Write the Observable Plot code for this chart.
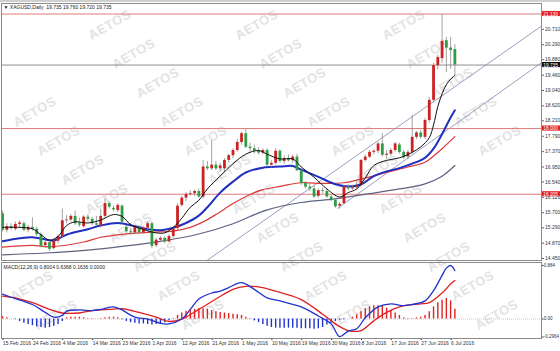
<!DOCTYPE html>
<html><head><meta charset="utf-8">
<script src="https://cdn.jsdelivr.net/npm/d3@7"></script>
<script src="https://cdn.jsdelivr.net/npm/@observablehq/plot@0.6"></script>
<style>
body{margin:0;background:#fff;}
#wrap{position:relative;width:560px;height:351px;overflow:hidden;background:#fff;font-family:"Liberation Sans",Arial,sans-serif;}
#wm,#main,#macd{position:absolute;left:0;}
#wm{top:0;width:560px;height:351px;}
#main{top:0}
#macd{top:261px}
.wmk{position:absolute;color:#e3e3e3;font:bold 13px "Liberation Sans",Arial,sans-serif;transform:rotate(-30deg);white-space:nowrap;letter-spacing:0.5px}
#topbar{position:absolute;left:0;top:0;width:560px;height:2px;background:#cfcfcf}
</style></head><body>
<div id="wrap"><div id="wm"></div><div id="main"></div><div id="macd"></div><div id="topbar"></div></div>
<script>
// ---- data ----
const tickBars = [0,7,14,21,28,35,42,49,56,63,70,77,84,91,98,105];
const tickLabels = ["15 Feb 2016","24 Feb 2016","4 Mar 2016","14 Mar 2016","23 Mar 2016","1 Apr 2016","12 Apr 2016","21 Apr 2016","1 May 2016","10 May 2016","19 May 2016","30 May 2016","8 Jun 2016","17 Jun 2016","27 Jun 2016","6 Jul 2016"];
const priceTicks = [20.710,20.290,19.880,19.460,19.040,18.620,18.210,17.790,17.370,16.950,16.540,16.120,15.700,15.290,14.870,14.450];
const levelValues = [21.130, 18.000, 16.205];
const levelLabels = ["21.130","18.000","16.205"];
const lastPrice = 19.735;
const headerText = "▼ XAGUSD,Daily  19.735 19.760 19.720 19.735";
const macdText = "MACD(12,26,9) 0.8004 0.6368 0.1636 0.0000";
const macdTicks = [0.884, 0, -0.2964];
const macdTickLabels = ["0.884","0.00","-0.2964"];

const open = [15.67,15.22,15.32,15.25,15.38,15.40,15.22,15.30,15.25,15.10,14.80,14.88,14.72,14.92,15.05,15.48,15.50,15.60,15.40,15.32,15.58,15.52,15.40,15.34,15.60,15.95,15.82,15.76,15.88,15.30,15.18,15.15,15.30,15.15,15.28,15.40,14.80,14.95,15.00,14.90,15.05,15.27,15.90,16.10,16.20,16.22,16.28,16.13,16.95,16.90,17.00,16.90,16.90,17.13,17.26,17.40,17.62,17.86,17.49,17.45,17.38,17.33,17.40,17.00,17.05,17.38,17.10,17.18,17.12,17.22,16.85,16.50,16.40,16.35,16.15,16.30,16.28,16.13,16.04,15.88,15.95,16.40,16.35,16.38,16.45,17.13,17.22,17.35,17.38,17.58,17.27,17.30,17.40,17.55,17.35,17.22,17.35,17.76,17.88,17.76,18.22,18.77,19.72,19.91,20.40,20.20,20.16];
const high = [15.75,15.40,15.40,15.45,15.48,15.45,15.35,15.56,15.30,15.15,14.95,14.95,14.98,15.10,15.80,15.62,15.65,15.75,15.55,15.62,15.65,15.58,15.60,15.80,16.08,16.00,15.88,15.95,15.92,15.35,15.25,15.35,15.35,15.32,15.45,15.45,15.00,15.05,15.05,15.10,15.30,15.95,16.15,16.25,16.30,16.32,16.35,17.13,17.10,17.67,17.10,17.05,17.18,17.30,17.45,17.70,17.90,17.98,17.60,17.55,17.48,17.45,17.45,17.12,17.45,17.42,17.25,17.28,17.28,17.30,16.90,16.55,16.48,16.45,16.35,16.38,16.35,16.18,16.08,15.98,16.45,16.48,16.45,16.60,17.15,17.28,17.40,17.42,17.62,17.86,17.40,17.45,17.62,17.60,17.40,17.40,18.36,17.92,17.95,18.28,18.85,19.78,20.00,21.12,20.49,20.49,20.30];
const low = [15.18,15.15,15.22,15.20,15.28,15.18,15.15,15.20,15.05,14.74,14.72,14.64,14.68,14.85,15.00,15.40,15.45,15.35,15.30,15.28,15.45,15.35,15.32,15.28,15.55,15.80,15.72,15.70,15.40,15.12,15.10,15.10,15.10,15.12,15.20,14.72,14.75,14.88,14.85,14.88,15.00,15.22,15.85,16.00,16.15,16.15,16.10,16.08,16.85,16.85,16.85,16.82,16.80,17.05,17.18,17.35,17.55,17.45,17.35,17.30,17.28,17.28,16.95,16.92,17.00,17.05,17.02,17.08,17.05,16.82,16.45,16.35,16.28,16.10,16.10,16.22,16.10,16.00,15.82,15.80,15.92,16.30,16.32,16.34,16.40,17.08,17.18,17.28,17.32,17.22,17.15,17.25,17.35,17.30,17.15,17.15,17.30,17.70,17.72,17.70,18.15,18.70,19.60,19.78,19.53,19.62,19.45];
const close = [15.22,15.32,15.27,15.38,15.42,15.22,15.30,15.25,15.10,14.78,14.88,14.70,14.92,15.05,15.48,15.50,15.60,15.40,15.36,15.58,15.52,15.40,15.36,15.60,15.95,15.85,15.78,15.90,15.44,15.18,15.15,15.30,15.15,15.28,15.40,14.78,14.95,15.00,14.90,15.05,15.25,15.88,16.10,16.20,16.22,16.28,16.13,16.95,16.90,17.00,16.90,16.98,17.13,17.26,17.40,17.62,17.86,17.49,17.45,17.38,17.33,17.40,17.00,17.05,17.38,17.10,17.18,17.12,17.22,16.85,16.50,16.40,16.35,16.13,16.30,16.28,16.13,16.04,15.86,15.93,16.40,16.35,16.38,16.45,17.13,17.22,17.35,17.38,17.58,17.27,17.30,17.40,17.58,17.35,17.20,17.35,17.76,17.88,17.76,18.22,18.77,19.72,19.94,20.38,20.20,20.13,19.735];

// moving averages, read at sample bars
const maFastBar = [0,4,7,9,11,13,15,17,20,23,26,28,30,33,36,38,40,42,44,46,48,51,54,57,60,62,65,68,70,73,76,79,81,83,85,87,90,93,96,98,100,101,102,103,104,105,106];
const maFastVal = [15.30,15.30,15.26,15.10,14.95,15.05,15.35,15.45,15.42,15.50,15.65,15.60,15.38,15.24,15.15,15.15,15.30,15.55,15.85,16.04,16.35,16.70,17.04,17.30,17.40,17.30,17.17,17.17,16.95,16.67,16.35,16.13,16.25,16.35,16.65,16.99,17.13,17.20,17.35,17.50,17.75,18.10,18.60,18.95,19.20,19.35,19.45];
const maBlueBar = [0,4,7,10,12,15,20,23,27,31,34,37,40,43,46,48,51,54,57,61,65,68,70,74,78,81,84,87,90,93,96,99,101,103,105,106];
const maBlueVal = [14.92,15.00,15.03,14.97,14.94,15.10,15.25,15.35,15.42,15.33,15.25,15.22,15.29,15.42,15.62,15.85,16.25,16.55,16.80,16.93,16.96,16.98,16.88,16.68,16.48,16.42,16.47,16.70,16.83,16.92,17.04,17.20,17.45,17.85,18.30,18.50];
const maRedBar = [0,7,11,19,23,29,35,40,44,47,50,54,58,61,65,70,75,80,85,90,95,99,101,103,106];
const maRedVal = [14.76,14.81,14.77,14.90,15.03,15.12,15.17,15.20,15.30,15.45,15.65,15.95,16.20,16.33,16.42,16.52,16.50,16.52,16.65,16.80,16.95,17.08,17.25,17.45,17.78];
const maSlowBar = [0,10,20,28,37,46,54,62,70,78,86,93,99,103,106];
const maSlowVal = [14.55,14.60,14.68,14.78,14.92,15.12,15.40,15.78,15.98,16.08,16.22,16.35,16.49,16.70,16.99];

// channel lines (two anchor points each: bar, price)
const chanUpperBar = [47.9,126.3], chanUpperVal = [14.395,20.80];
const chanLowerBar = [78.5,126.3], chanLowerVal = [15.82,19.80];

// MACD
const macdBar = [0,2,7,10,12,14,15,18,21,23,26,28,31,34,37,39,42,44,46,49,51,53,56,59,62,65,70,74,77,79,81,83,85,88,91,94,96,99,101,103,104,105,106];
const macdVal = [0.41,0.36,0.24,0.11,0.03,0.06,0.13,0.15,0.14,0.16,0.20,0.15,0.03,0.00,-0.07,-0.08,0.00,0.16,0.33,0.43,0.46,0.52,0.60,0.49,0.35,0.30,0.20,0.05,-0.08,-0.29,-0.20,-0.16,0.02,0.20,0.25,0.22,0.24,0.30,0.47,0.72,0.84,0.884,0.8004];
const sigBar = [0,3,7,11,14,18,21,25,28,32,36,39,42,46,50,54,57,60,64,66,70,75,78,81,84,87,90,94,98,100,103,104,105,106];
const sigVal = [0.38,0.35,0.27,0.16,0.10,0.10,0.14,0.16,0.17,0.11,0.03,-0.04,0.00,0.16,0.33,0.49,0.54,0.53,0.46,0.42,0.32,0.08,-0.08,-0.19,-0.19,-0.03,0.11,0.22,0.25,0.27,0.43,0.50,0.58,0.6368];
const histVal = [0.04,0.02,0.00,-0.01,-0.04,-0.07,-0.09,-0.11,-0.13,-0.14,-0.15,-0.14,-0.12,-0.09,-0.04,0.02,0.03,0.03,0.03,0.02,0.01,0.01,0.00,0.01,0.02,0.03,0.03,0.02,-0.01,-0.04,-0.06,-0.07,-0.08,-0.08,-0.09,-0.10,-0.09,-0.08,-0.06,-0.03,0.01,0.06,0.10,0.13,0.15,0.16,0.17,0.17,0.16,0.14,0.12,0.11,0.10,0.09,0.08,0.07,0.06,0.03,0.01,-0.03,-0.06,-0.09,-0.12,-0.14,-0.15,-0.15,-0.15,-0.15,-0.15,-0.15,-0.16,-0.16,-0.16,-0.17,-0.16,-0.14,-0.10,-0.07,-0.04,-0.02,-0.01,0.00,0.03,0.07,0.12,0.17,0.20,0.22,0.22,0.21,0.18,0.14,0.10,0.06,0.02,0.01,0.01,0.02,0.03,0.06,0.12,0.20,0.27,0.31,0.34,0.30,0.1636];

// ---- build ----
const UP = "#cc2222", DOWN = "#2e9d46";
const candles = open.map((o,i)=>({i, o, h: high[i], l: low[i], c: close[i]}));
const pts = (b,v)=>b.map((x,k)=>({x, y: v[k]}));
const xDom = [-0.25, 126.3];
const font = "'Liberation Sans', Arial, sans-serif";
const boxX1 = xDom[1] + 0.05, boxX2 = xDom[1] + 4.5;

const main = Plot.plot({
  width: 560, height: 261,
  marginLeft: 1, marginRight: 19, marginTop: 3, marginBottom: 1,
  x: {domain: xDom, axis: null},
  y: {domain: [14.395, 21.417], axis: null},
  style: {background: "transparent", fontFamily: font, fontSize: "5px", color: "#333", overflow: "visible"},
  marks: [
    Plot.ruleY(levelValues, {stroke: "#e07a7a", strokeWidth: 1}),
    Plot.ruleY([lastPrice], {stroke: "#8f8f8f", strokeWidth: 1}),
    Plot.line(pts(chanUpperBar, chanUpperVal), {x:"x", y:"y", stroke:"#8d93b8", strokeWidth: 0.9}),
    Plot.line(pts(chanLowerBar, chanLowerVal), {x:"x", y:"y", stroke:"#8d93b8", strokeWidth: 0.9}),
    Plot.line(pts(maSlowBar, maSlowVal), {x:"x", y:"y", stroke:"#5d6280", strokeWidth: 1.2, curve:"catmull-rom"}),
    Plot.line(pts(maRedBar, maRedVal), {x:"x", y:"y", stroke:"#d93a3a", strokeWidth: 1.2, curve:"catmull-rom"}),
    Plot.line(pts(maBlueBar, maBlueVal), {x:"x", y:"y", stroke:"#1f2fbf", strokeWidth: 2, curve:"catmull-rom"}),
    Plot.ruleX(candles, {x:"i", y1:"l", y2:"h", stroke:"#8a8a8a", strokeWidth: 0.8}),
    Plot.ruleX(candles, {x:"i", y1:"o", y2:"c", stroke: d => d.c >= d.o ? UP : DOWN, strokeWidth: 2.8}),
    Plot.line(pts(maFastBar, maFastVal), {x:"x", y:"y", stroke:"#111", strokeWidth: 1, curve:"catmull-rom"}),
    Plot.axisY({anchor:"right", ticks: priceTicks, tickFormat: d => d.toFixed(3), tickSize: 2, tickPadding: 1.5, stroke:"#666"}),
    Plot.rect(levelValues, {x1: boxX1, x2: boxX2, y1: d => d - 0.07, y2: d => d + 0.07, fill: "#e02020"}),
    Plot.text(levelValues, {x: boxX1, y: d => d, text: (d,k) => levelLabels[k], textAnchor: "start", dx: 1.5, fill: "white", fontSize: 4.8}),
    Plot.rect([lastPrice], {x1: boxX1, x2: boxX2, y1: d => d - 0.07, y2: d => d + 0.07, fill: "#111"}),
    Plot.text([lastPrice], {x: boxX1, y: d => d, text: d => d.toFixed(3), textAnchor: "start", dx: 1.5, fill: "white", fontSize: 4.8}),
    Plot.text([headerText], {frameAnchor: "top-left", dx: 2, dy: 1.5, fill: "#222", fontSize: 5}),
    Plot.frame({stroke: "#8a8a8a"})
  ]
});
document.getElementById("main").appendChild(main);

const hist = histVal.map((v,i)=>({i, v}));
const macd = Plot.plot({
  width: 560, height: 90,
  marginLeft: 1, marginRight: 19, marginTop: 1, marginBottom: 13,
  insetTop: 3, insetBottom: 1.5,
  x: {domain: xDom},
  y: {domain: [-0.2964, 0.884], axis: null},
  style: {background: "transparent", fontFamily: font, fontSize: "5px", color: "#333", overflow: "visible"},
  marks: [
    Plot.ruleY([0], {stroke: "#c8c8c8", strokeDasharray: "1,1"}),
    Plot.ruleX(hist, {x: "i", y1: 0, y2: "v", stroke: d => d.v >= 0 ? "#dd2222" : "#2233cc", strokeWidth: 1.4}),
    Plot.line(pts(sigBar, sigVal), {x:"x", y:"y", stroke:"#dd2222", strokeWidth: 1.3, curve:"catmull-rom"}),
    Plot.line(pts(macdBar, macdVal), {x:"x", y:"y", stroke:"#2233cc", strokeWidth: 1.3, curve:"catmull-rom"}),
    Plot.axisY({anchor:"right", ticks: macdTicks, tickFormat: (d) => macdTickLabels[macdTicks.indexOf(d)], tickSize: 1.5, tickPadding: 0.8, fontSize: 4.5}),
    Plot.axisX({ticks: tickBars, tickFormat: d => tickLabels[tickBars.indexOf(d)], textAnchor: "start", tickSize: 2, tickPadding: 1, dx: 0.5}),
    Plot.text([macdText], {frameAnchor: "top-left", dx: 2, dy: 3, fill: "#222", fontSize: 5}),
    Plot.frame({stroke: "#8a8a8a"})
  ]
});
document.getElementById("macd").appendChild(macd);

// watermark layer (decoration), only fully visible copies
const wm = document.getElementById("wm");
for (let c = -3; c <= 4; c++) {
  for (let k = -5; k <= 10; k++) {
    const cx = 33 + 147*c + 24*k, cy = 112 + 29*k;
    if (cx < 26 || cx > 512 || cy < 20 || cy > 330) continue;
    const d = document.createElement("div");
    d.className = "wmk"; d.textContent = "AETOS";
    d.style.left = (cx - 22) + "px"; d.style.top = (cy - 8) + "px";
    wm.appendChild(d);
  }
}
</script>
</body></html>
